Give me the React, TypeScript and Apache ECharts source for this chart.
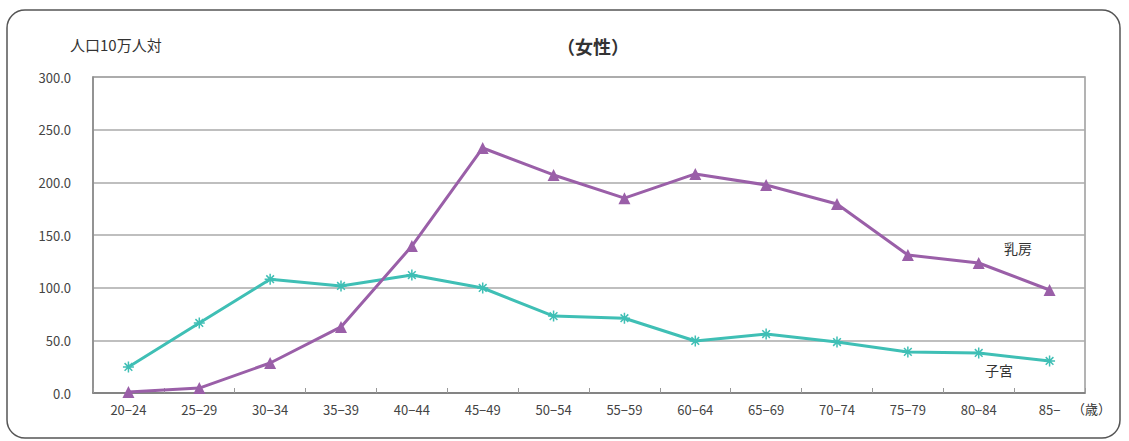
import React, { useEffect, useRef } from "react";
import * as echarts from "echarts";

const categories = ["20−24", "25−29", "30−34", "35−39", "40−44", "45−49", "50−54", "55−59", "60−64", "65−69", "70−74", "75−79", "80−84", "85−"];
const breast = [1.0, 4.7, 28.5, 62.7, 139.5, 232.6, 207.0, 185.0, 208.0, 197.5, 179.4, 131.0, 123.4, 97.8];
const uterus = [24.7, 66.5, 108.0, 101.6, 112.0, 99.7, 73.0, 71.0, 49.4, 56.0, 48.4, 39.0, 38.0, 30.4];
const yMin = 0;
const yMax = 300;
const yStep = 50;

const FONT = '"Noto Sans CJK JP", "Noto Sans", sans-serif';
const PURPLE = "#9a5fa8";
const TEAL = "#3fbfb5";
const ASTERISK = "path://M0,5L10,5M5,0L5,10M1.5,1.5L8.5,8.5M8.5,1.5L1.5,8.5";

export default function App() {
  const ref = useRef<HTMLDivElement>(null);
  useEffect(() => {
    const chart = echarts.init(ref.current!, null, { renderer: "svg" });
    chart.setOption({
      animation: false,
      backgroundColor: "#ffffff",
      grid: { left: 93, right: 44, top: 77, bottom: 48, show: true, borderColor: "#9a9a9a", borderWidth: 1.5 },
      xAxis: {
        type: "category",
        data: categories,
        boundaryGap: true,
        axisLine: { lineStyle: { color: "#777", width: 1.5 } },
        axisTick: { show: true, inside: true, length: 5, lineStyle: { color: "#999" } },
        axisLabel: { color: "#444", fontSize: 13, fontFamily: FONT, margin: 10 },
      },
      yAxis: {
        type: "value",
        min: yMin,
        max: yMax,
        interval: yStep,
        axisLine: { show: true, lineStyle: { color: "#888", width: 1.5 } },
        axisTick: { show: false },
        splitLine: { lineStyle: { color: "#aaaaaa", width: 1.5 } },
        axisLabel: { color: "#444", fontSize: 13, fontFamily: FONT, margin: 22, formatter: (v: number) => v.toFixed(1) },
      },
      series: [
        {
          name: "乳房",
          type: "line",
          data: breast,
          symbol: "triangle",
          symbolSize: 12,
          lineStyle: { color: PURPLE, width: 3 },
          itemStyle: { color: PURPLE },
          z: 3,
        },
        {
          name: "子宮",
          type: "line",
          data: uterus,
          symbol: ASTERISK,
          symbolSize: 11,
          lineStyle: { color: TEAL, width: 3 },
          itemStyle: { color: TEAL, borderColor: TEAL, borderWidth: 1.5 },
          z: 2,
        },
      ],
      graphic: [
        {
          type: "rect",
          shape: { x: 7, y: 10, width: 1113, height: 428, r: 18 },
          style: { fill: "none", stroke: "#555", lineWidth: 1.5 },
          silent: true,
        },
        { type: "text", left: 70, top: 37, style: { text: "人口10万人対", fill: "#333", font: `15px ${FONT}` } },
        { type: "text", left: 557, top: 37, style: { text: "（女性）", fill: "#333", font: `bold 18px ${FONT}` } },
        { type: "text", left: 1072, top: 402, style: { text: "（歳）", fill: "#333", font: `13px ${FONT}` } },
        { type: "text", left: 1004, top: 241, style: { text: "乳房", fill: "#333", font: `14px ${FONT}` } },
        { type: "text", left: 985, top: 363, style: { text: "子宮", fill: "#333", font: `14px ${FONT}` } },
      ],
    });
    return () => chart.dispose();
  }, []);
  return <div ref={ref} style={{ position: "fixed", left: 0, top: 0, width: 1129, height: 441 }} />;
}
